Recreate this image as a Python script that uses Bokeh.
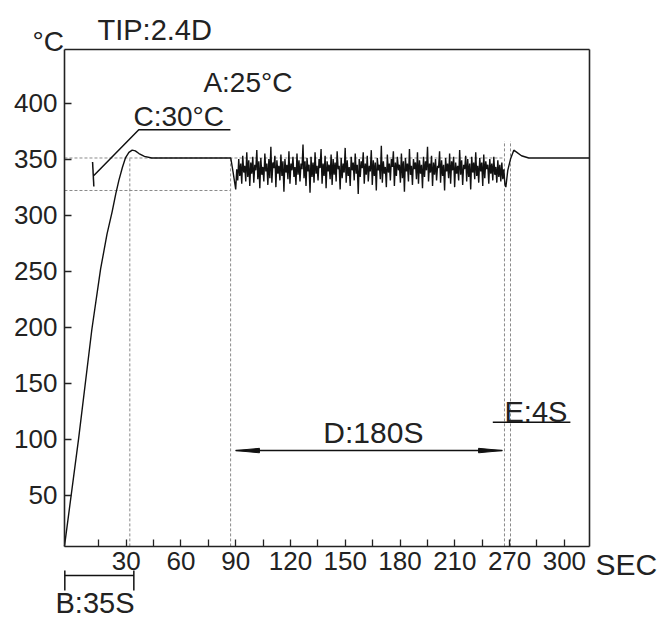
from bokeh.plotting import figure
from bokeh.models import Range1d, FixedTicker, Label, LinearAxis
from bokeh.embed import file_html
from bokeh.resources import INLINE

# ---------------- data ----------------
x_ticks = [30, 60, 90, 120, 150, 180, 210, 240, 270]
x_tick_labels = ["30", "60", "90", "120", "150", "180", "210", "270", "300"]
x_minor = [15, 45, 75, 105, 135, 165, 195, 225, 255]
y_ticks = [50, 100, 150, 200, 250, 300, 350, 400]

x_lo, x_hi = -3.8, 284.0      # box limits (s)
y_lo, y_hi = 4.5, 447.5       # box limits (deg C)

rise_x = [-3.8, 3.9, 11.2, 16, 19.5, 22.3, 24.3, 26, 28, 29.6, 31.5, 33.3, 35, 37, 40, 44, 87.3, 88.6]
rise_y = [4.5, 100, 198, 252, 283, 303, 319, 331, 343, 351, 356, 358, 357.3, 355, 352.5, 351, 351, 338]

noise_start, noise_step = 90, 0.55
noise_y = [
    323, 341, 331, 350, 335, 346, 328, 353, 338, 344, 330, 356, 334, 349, 326,
    347, 337, 352, 329, 345, 340, 358, 332, 348, 324, 351, 336, 343, 330, 355,
    339, 346, 327, 350, 333, 361, 329, 347, 342, 353, 325, 349, 337, 344, 331,
    354, 335, 348, 321, 350, 338, 345, 332, 357, 328, 346, 340, 352, 334, 343,
    327, 355, 336, 349, 330, 346, 341, 363, 333, 348, 326, 351, 339, 345, 320,
    352, 334, 347, 329, 356, 337, 344, 331, 350, 342, 359, 328, 346, 335, 353,
    324, 348, 339, 345, 332, 354, 327, 350, 336, 347, 330, 357, 341, 344, 323,
    351, 333, 346, 338, 360, 329, 349, 335, 343, 326, 352, 340, 347, 331, 355,
    337, 345, 319, 350, 334, 348, 342, 356, 328, 346, 336, 353, 330, 344, 339,
    358, 327, 349, 335, 347, 322, 351, 340, 345, 332, 362, 329, 348, 337, 343,
    325, 354, 338, 346, 331, 350, 343, 357, 326, 347, 335, 352, 340, 345, 329,
    355, 333, 348, 321, 351, 339, 346, 330, 359, 336, 344, 327, 350, 341, 347,
    332, 356, 328, 349, 337, 345, 324, 352, 334, 348, 340, 361, 330, 346, 338,
    353, 326, 347, 336, 350, 331, 344, 342, 357, 329, 349, 335, 345, 322, 351,
    339, 346, 333, 355, 328, 348, 340, 352, 325, 347, 337, 344, 331, 358, 336,
    349, 327, 345, 341, 353, 330, 350, 334, 346, 323, 352, 338, 347, 332, 356,
    335, 344, 329, 351, 339, 347, 326, 354, 333, 348, 341, 345, 328, 350, 337,
    346, 331, 352, 336, 343, 329, 349, 334, 345, 330, 347, 332, 341, 328, 325,
]

end_x = [239, 240.5, 242.3, 244, 246.5, 250.5, 284]
end_y = [340, 350, 358, 356, 353, 351, 351]

# reference levels / markers
setpoint = 351
lower_level = 322
v_marks_short = [32, 87.2]
v_marks_e = [237.2, 240.5]
e_top = 366
d_start, d_end, d_level = 90, 236, 90
e_line = [230.8, 273.3]
e_level = 115.3
b_start, b_end, b_level = -3.6, 34.2, -21.4
b_tick_top, b_tick_bot = -17, -34.8

FONT = "Liberation Sans"
TXT = "#222222"
INK = "#111111"

noise_x = [noise_start + i * noise_step for i in range(len(noise_y))]
prof_x = rise_x + noise_x + end_x
prof_y = rise_y + noise_y + end_y

p = figure(width=661, height=621, output_backend="svg", toolbar_location=None,
           x_range=Range1d(-38.83, 323.2), y_range=Range1d(-62.5, 491.5),
           x_axis_location=None, y_axis_location=None,
           min_border_left=0, min_border_right=0, min_border_top=0, min_border_bottom=0)
p.grid.visible = False
p.outline_line_color = None
p.background_fill_color = "white"
p.border_fill_color = "white"


def style_axis(ax):
    ax.axis_line_color = "#222222"
    ax.axis_line_width = 1.6
    ax.major_tick_in = 7
    ax.major_tick_out = 0
    ax.major_tick_line_color = "#222222"
    ax.major_tick_line_width = 1.3
    ax.minor_tick_line_color = None
    ax.major_label_text_font = FONT
    ax.major_label_text_font_size = "26px"
    ax.major_label_text_color = TXT


xaxis = LinearAxis(fixed_location=y_lo, bounds=(x_lo, x_hi))
style_axis(xaxis)
xaxis.ticker = FixedTicker(ticks=x_ticks, minor_ticks=x_minor)
xaxis.major_label_overrides = {t: l for t, l in zip(x_ticks, x_tick_labels)}
xaxis.minor_tick_in = 7
xaxis.minor_tick_out = 0
xaxis.minor_tick_line_color = "#222222"
xaxis.minor_tick_line_width = 1.3
xaxis.major_label_standoff = 6
p.add_layout(xaxis, "below")

yaxis = LinearAxis(fixed_location=x_lo, bounds=(y_lo, y_hi))
style_axis(yaxis)
yaxis.ticker = FixedTicker(ticks=y_ticks)
yaxis.major_label_standoff = 7
p.add_layout(yaxis, "left")

# top and right sides of the box
for side, loc, bnds in (("above", y_hi, (x_lo, x_hi)), ("right", x_hi, (y_lo, y_hi))):
    ax = LinearAxis(fixed_location=loc, bounds=bnds, ticker=FixedTicker(ticks=[]))
    ax.axis_line_color = "#222222"
    ax.axis_line_width = 1.6
    ax.major_label_text_font_size = "0px"
    ax.major_tick_line_color = None
    ax.minor_tick_line_color = None
    p.add_layout(ax, side)

dash = dict(line_color="#8a8a8a", line_dash="3 2", line_width=1)
p.line([x_lo, v_marks_e[0]], [setpoint, setpoint], **dash)
p.line([x_lo, v_marks_short[1]], [lower_level, lower_level], **dash)
for vx in v_marks_short:
    p.line([vx, vx], [y_lo, setpoint], **dash)
for vx in v_marks_e:
    p.line([vx, vx], [y_lo, e_top], **dash)

# profile
p.line(prof_x, prof_y, line_color=INK, line_width=1.4)

# C annotation
p.line([11.6, 12.3], [347.5, 325.5], line_color=INK, line_width=1.5)
p.line([12.3, 36.9, 87.1], [335.4, 376.2, 376.2], line_color=INK, line_width=1.5)

# D arrow
p.line([d_start, d_end], [d_level, d_level], line_color=INK, line_width=1.5)
hl, hw = 13, 2.0
p.patches([[d_start, d_start + hl, d_start + hl], [d_end, d_end - hl, d_end - hl]],
          [[d_level, d_level + hw, d_level - hw], [d_level, d_level + hw, d_level - hw]],
          fill_color=INK, line_color=INK)

# E line
p.line(e_line, [e_level, e_level], line_color=INK, line_width=1.5)

# B bracket
p.line([b_start, b_end], [b_level, b_level], line_color=INK, line_width=1.5)
p.line([b_start, b_start], [b_tick_top, b_tick_bot], line_color=INK, line_width=1.5)
p.line([b_end, b_end], [b_tick_top, b_tick_bot], line_color=INK, line_width=1.5)


def lab(x, y, t, size):
    p.add_layout(Label(x=x, y=y, text=t, text_font=FONT, text_font_size=size,
                       text_color=TXT, text_align="left", text_baseline="middle"))


lab(-21.3, 455.0, "°C", "28px")
lab(14.3, 464.8, "TIP:2.4D", "29px")
lab(72.3, 418.0, "A:25°C", "28px")
lab(34.0, 387.6, "C:30°C", "28px")
lab(-8.7, -46.4, "B:35S", "29px")
lab(287.0, -11.6, "SEC", "30px")
lab(138.0, 106.2, "D:180S", "30px")
lab(237.2, 124.3, "E:4S", "29px")

open("out.html", "w").write(file_html(p, INLINE))
